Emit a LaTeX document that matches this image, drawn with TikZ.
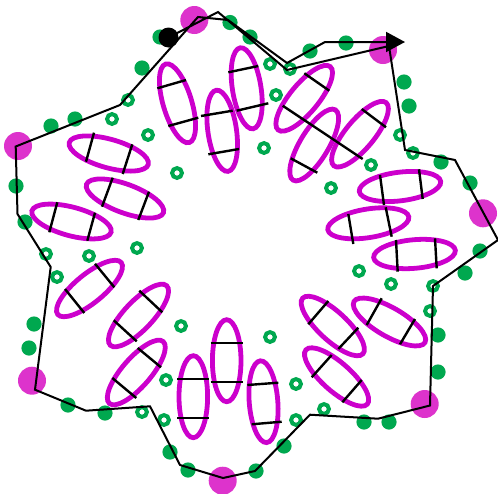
\documentclass[tikz,border=0pt]{standalone}
\usetikzlibrary{arrows.meta}
\definecolor{grn}{HTML}{00A84F}
\definecolor{magdot}{HTML}{DD33CC}
\definecolor{ellc}{HTML}{CC00CC}
\begin{document}
\begin{tikzpicture}[x=1pt,y=-1pt,
  bigdot/.style={fill=magdot},
  gdot/.style={fill=grn},
  gring/.style={draw=grn,line width=4pt},
  ellstyle/.style={draw=ellc,line width=4.8pt},
  chord/.style={draw=black,line width=2.4pt},
  route/.style={draw=black,line width=2pt,line join=miter}]
\useasboundingbox[fill=white] (0,0) rectangle (498,493);
% big magenta dots
\foreach \x/\y in {194.3/20,383/50,18/146,483/213.3,32/380.7,424.7/404,222.7/480.7}
  \fill[bigdot] (\x,\y) circle[radius=14pt];
% green filled dots
\foreach \x/\y in {160/37,230/22.5,250/37,142/68,51/126,75/119,16/186,25/222,
  310/51,346/43,404/82,409/106,441/162,470/183,480/251,465/273,438/335,438/372,
  364/422,389/422,284/446,256/471,188/470,170/452,105/413,68/405,29/348,34/324}
  \fill[gdot] (\x,\y) circle[radius=7.6pt];
% green rings
\foreach \x/\y in {128/100,112/119,148/135,177/173,137/248,46/254,89/256,57/277,
  270/64,290/69,276/95,264/148,400/135,371/165,413/153,331/188,359/271,391/284,
  433/286,430/311,270/337,296/384,324/409,296/420,181/326,166/380,142/412,164/420}
  \draw[gring] (\x,\y) circle[radius=4.9pt];
% ellipses
\foreach \cx/\cy/\an in {177.5/103.3/106.7,222.2/130.8/98.2,246.7/88.3/99,
  304.2/98.3/50.5,314.2/145/59,360/134.2/50.3,400/186.5/7,368.3/223.3/9,
  414.5/254/5,108.8/153.5/-15.5,125/198.5/-20.3,71.5/221.5/-15,
  89.5/288.5/39.3,138.5/315.5/46.5,136.3/372.5/49,226.7/360.7/90,
  193.3/396.7/90,263.5/401.7/94.4,332.8/326/-42.8,389.5/322/-30,336.6/377/-41.5}
  \draw[ellstyle,shift={(\cx,\cy)},rotate=\an] (0,0) ellipse[x radius=41pt,y radius=14.3pt];
% chords
\foreach \ax/\ay/\bx/\by in {157.3/88.3/186/80,168.3/126/198.3/117.7,
  201/116/232.7/110.7,208.3/154.3/239/149,
  228.3/72.3/258.3/66,236.7/110.7/268.3/103.3,
  304.3/73.3/329.3/90.7,282.7/105.7/362.7/159,
  290.7/158.3/317.3/172.7,361.7/109/386/127.3,
  380/175/384/205,419/169.3/422.7/199,
  348.3/214/353.3/244,385.7/207.3/391.7/236.7,
  396/240/397.7/271.7,435/238.3/436.7/268.3,
  94/132.7/86/161.7,132.3/144.3/122.7/174,
  112.7/177.7/102/206.7,149/191.7/138.3/220,
  57.3/202.3/49.3/232.3,95/212.7/87.3/240.7,
  95/263.7/114.3/287.3,65/289/84.3/313,
  139.3/290.7/162.3/312.3,113.7/320.3/136.7/341.3,
  137.7/348/161/367.3,112.3/378/136.3/398,
  210.7/342.7/242.7/342.7,210.7/381.7/242.7/381.7,
  177.3/379/209.3/379,177.3/418/209.3/418,
  247.3/385/278.3/382.7,251.7/424.3/281.7/421.7,
  328.3/301/308.3/324.3,358.3/327.7/338.3/349,
  381.7/298.3/366.7/325,415/319/400/344.3,
  331.7/355/311.7/377.3,361.7/380/342.3/402.3}
  \draw[chord] (\ax,\ay) -- (\bx,\by);
% route
\coordinate (s) at (168.5,37.5);
\coordinate (r1) at (218,12);
\coordinate (r2) at (287,70);
\coordinate (r3) at (389,46);
\coordinate (r4) at (405,150);
\coordinate (r5) at (455,160);
\coordinate (r6) at (498,240);
\coordinate (r7) at (433,286);
\coordinate (r8) at (430,405.5);
\coordinate (r9) at (378,418.7);
\coordinate (r10) at (310,414.7);
\coordinate (r11) at (255,471);
\coordinate (r12) at (223,478);
\coordinate (r13) at (180,465);
\coordinate (r14) at (150,406.3);
\coordinate (r15) at (86,410.7);
\coordinate (r16) at (35,389.7);
\coordinate (r17) at (50.7,267);
\coordinate (r18) at (17.5,214);
\coordinate (r19) at (15.7,146.5);
\coordinate (r20) at (120,105);
\coordinate (r21) at (198,17);
\coordinate (r22) at (228,20);
\coordinate (r23) at (287,63);
\coordinate (r24) at (325,42);
\coordinate (e) at (405,42);
\draw[route,-{Triangle[length=19pt,width=20pt]}] (s) -- (r1) -- (r2) -- (r3) -- (r4) -- (r5) -- (r6) -- (r7) -- (r8) -- (r9) -- (r10) -- (r11) -- (r12) -- (r13) -- (r14) -- (r15) -- (r16) -- (r17) -- (r18) -- (r19) -- (r20) -- (r21) -- (r22) -- (r23) -- (r24) -- (e);
\fill (s) circle[radius=10pt];
\end{tikzpicture}
\end{document}
